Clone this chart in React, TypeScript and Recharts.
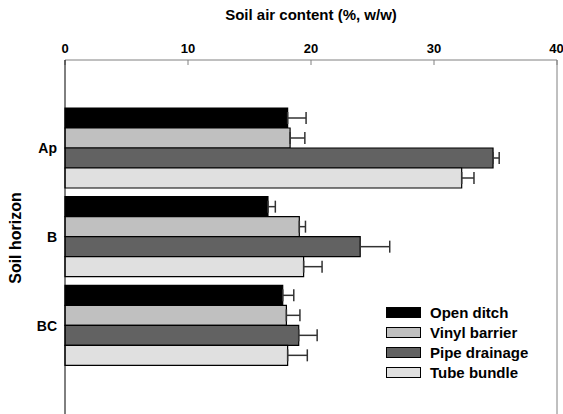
import React from "react";
import {
  BarChart,
  Bar,
  XAxis,
  YAxis,
  ErrorBar,
  Legend,
  Label,
  ReferenceLine,
} from "recharts";

// horizons, top to bottom
const horizons = ["Ap", "B", "BC"];

// treatments in legend order
const treatments = ["Open ditch", "Vinyl barrier", "Pipe drainage", "Tube bundle"];

// soil air content (%, w/w) per treatment
const openDitch = [18.1, 16.5, 17.7];
const openDitchErr = [1.5, 0.6, 0.9];
const vinylBarrier = [18.3, 19.05, 18.0];
const vinylBarrierErr = [1.2, 0.5, 1.1];
const pipeDrainage = [34.8, 24.0, 19.0];
const pipeDrainageErr = [0.5, 2.4, 1.5];
const tubeBundle = [32.25, 19.4, 18.1];
const tubeBundleErr = [1.0, 1.5, 1.6];

const xTicks = [0, 10, 20, 30, 40];

const data = horizons.map((h, i) => ({
  name: h,
  od: openDitch[i],
  odErr: [0, openDitchErr[i]],
  vb: vinylBarrier[i],
  vbErr: [0, vinylBarrierErr[i]],
  pd: pipeDrainage[i],
  pdErr: [0, pipeDrainageErr[i]],
  tb: tubeBundle[i],
  tbErr: [0, tubeBundleErr[i]],
}));

const font = "'Liberation Sans', Arial, Helvetica, sans-serif";

function LegendBox({ payload }: any) {
  const items = [...(payload || [])].sort(
    (a: any, b: any) => treatments.indexOf(a.value) - treatments.indexOf(b.value)
  );
  return (
    <div style={{ fontFamily: font, fontWeight: 700, fontSize: 15, color: "#000" }}>
      {items.map((p: any) => (
        <div key={p.value} style={{ display: "flex", alignItems: "center", height: 20 }}>
          <span
            style={{
              display: "inline-block",
              width: 33,
              height: 9,
              background: p.color,
              border: "1px solid #000",
              marginRight: 9,
            }}
          />
          <span>{p.value}</span>
        </div>
      ))}
    </div>
  );
}

export default function App() {
  return (
    <div
      style={{
        position: "fixed",
        left: 0,
        top: 0,
        width: 563,
        height: 414,
        overflow: "hidden",
        background: "#fff",
      }}
    >
      <BarChart
        width={563}
        height={440}
        data={data}
        layout="vertical"
        margin={{ top: 30, right: 6, left: 0, bottom: 0 }}
        barSize={20}
        barGap={0}
      >
        <XAxis
          type="number"
          orientation="top"
          domain={[0, 40]}
          ticks={xTicks}
          height={30}
          stroke="#808080"
          tickSize={-5}
          tickMargin={12}
          tick={{ fill: "#000", fontSize: 13, fontWeight: 700, fontFamily: font }}
        >
          <Label
            value="Soil air content (%, w/w)"
            position="top"
            offset={10}
            style={{ fill: "#000", fontSize: 15, fontWeight: 700, fontFamily: font }}
          />
        </XAxis>
        <YAxis
          type="category"
          dataKey="name"
          width={65}
          stroke="#000"
          tickLine={false}
          padding={{ top: 44, bottom: 70 }}
          tick={{ fill: "#000", fontSize: 14, fontWeight: 700, fontFamily: font }}
        >
          <Label
            value="Soil horizon"
            angle={-90}
            position="insideLeft"
            offset={15}
            dy={-12}
            style={{ fill: "#000", fontSize: 16, fontWeight: 700, fontFamily: font, textAnchor: "middle" }}
          />
        </YAxis>
        <ReferenceLine x={40} stroke="#808080" />
        <Legend
          layout="vertical"
          align="center"
          verticalAlign="middle"
          content={<LegendBox />}
          wrapperStyle={{ left: 386, top: 302, width: 170 }}
        />
        <Bar dataKey="od" name={treatments[0]} fill="#000000" stroke="#000" strokeWidth={1.2} isAnimationActive={false}>
          <ErrorBar dataKey="odErr" direction="x" width={6} stroke="#333" isAnimationActive={false} />
        </Bar>
        <Bar dataKey="vb" name={treatments[1]} fill="#c0c0c0" stroke="#000" strokeWidth={1.2} isAnimationActive={false}>
          <ErrorBar dataKey="vbErr" direction="x" width={6} stroke="#333" isAnimationActive={false} />
        </Bar>
        <Bar dataKey="pd" name={treatments[2]} fill="#626262" stroke="#000" strokeWidth={1.2} isAnimationActive={false}>
          <ErrorBar dataKey="pdErr" direction="x" width={6} stroke="#333" isAnimationActive={false} />
        </Bar>
        <Bar dataKey="tb" name={treatments[3]} fill="#e0e0e0" stroke="#000" strokeWidth={1.2} isAnimationActive={false}>
          <ErrorBar dataKey="tbErr" direction="x" width={6} stroke="#333" isAnimationActive={false} />
        </Bar>
      </BarChart>
    </div>
  );
}
